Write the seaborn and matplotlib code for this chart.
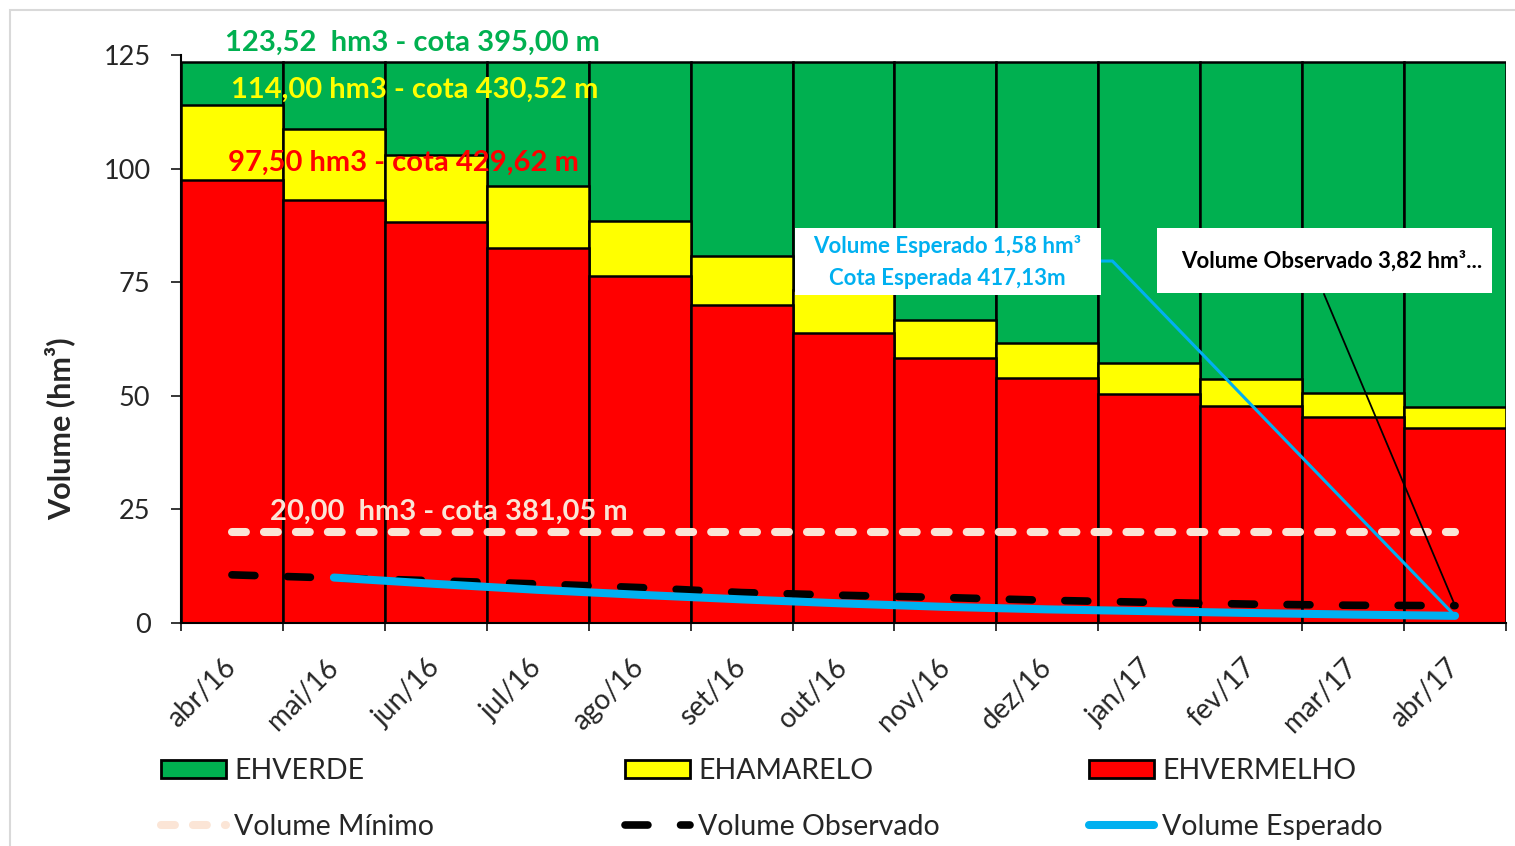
import numpy as np
import pandas as pd
import matplotlib
matplotlib.use('Agg')
import matplotlib.pyplot as plt
from matplotlib.patches import Patch, Rectangle
from matplotlib.lines import Line2D
from matplotlib.ticker import MultipleLocator
import seaborn as sns

# dados
meses = ['abr/16', 'mai/16', 'jun/16', 'jul/16', 'ago/16', 'set/16', 'out/16',
         'nov/16', 'dez/16', 'jan/17', 'fev/17', 'mar/17', 'abr/17']
eh_verde = [123.52] * 13
eh_amarelo = [114.0, 108.7, 103.0, 96.2, 88.5, 80.8, 73.3, 66.7, 61.6, 57.2, 53.7, 50.6, 47.5]
eh_vermelho = [97.5, 93.1, 88.2, 82.5, 76.4, 70.0, 63.8, 58.3, 53.9, 50.4, 47.8, 45.3, 42.9]
vol_minimo = [20.0] * 13
vol_observado = [10.6, 9.9, 9.3, 8.6, 7.8, 6.7, 6.1, 5.6, 5.0, 4.55, 4.15, 3.9, 3.82]
vol_esperado = [np.nan, 10.0, 8.6, 7.3, 6.2, 5.2, 4.3, 3.55, 3.0, 2.6, 2.2, 1.85, 1.58]

VERDE = '#00B050'
AMARELO = '#FFFF00'
VERMELHO = '#FF0000'
AZUL = '#00B0F0'
PESSEGO = '#FBE5D6'

sns.set_style('white')
plt.rcParams['font.family'] = ['Lato', 'DejaVu Sans']
plt.rcParams['lines.scale_dashes'] = False

df = pd.DataFrame({'mes': meses, 'verde': eh_verde, 'amarelo': eh_amarelo,
                   'vermelho': eh_vermelho, 'minimo': vol_minimo,
                   'observado': vol_observado, 'esperado': vol_esperado})
df['pos'] = np.arange(len(df))

W, H = 1515, 846
fig = plt.figure(figsize=(W / 100, H / 100), dpi=100)
ax = fig.add_axes([181 / W, 1 - 623 / H, 1325 / W, 568 / H])

# barras empilhadas (sobrepostas)
for col, cor in [('verde', VERDE), ('amarelo', AMARELO), ('vermelho', VERMELHO)]:
    sns.barplot(data=df, x='mes', y=col, color=cor, saturation=1, width=1.0,
                edgecolor='black', linewidth=1.8, errorbar=None, ax=ax)

# linhas
sns.lineplot(data=df, x='pos', y='minimo', color=PESSEGO, lw=5.8,
             linestyle=(0, (10, 13)), dash_capstyle='round', ax=ax)
sns.lineplot(data=df, x='pos', y='observado', color='black', lw=5.5,
             linestyle=(0, (16.5, 23.5)), dash_capstyle='round', ax=ax)
sns.lineplot(data=df, x='pos', y='esperado', color=AZUL, lw=5.8,
             solid_capstyle='round', solid_joinstyle='round', ax=ax)

ax.set_xlim(-0.5, 12.5)
ax.set_ylim(0, 125)
ax.set_xlabel('')
ax.set_ylabel('')

for s in ['top', 'right']:
    ax.spines[s].set_visible(False)
for s in ['left', 'bottom']:
    ax.spines[s].set_color('black')
    ax.spines[s].set_linewidth(1.5)

ax.set_yticks([0, 25, 50, 75, 100, 125])
ax.yaxis.set_minor_locator(MultipleLocator(5))
ax.tick_params(axis='y', which='major', direction='out', length=7, width=1.3,
               pad=15, labelsize=19.5, left=True)
ax.tick_params(axis='y', which='minor', direction='in', length=4, width=1.2, left=True)

ax.set_xticks(np.arange(-0.5, 13, 1))
ax.set_xticklabels([''] * 14)
ax.set_xticks(np.arange(13), minor=True)
ax.set_xticklabels(meses, minor=True, rotation=45, ha='right', va='center',
                   rotation_mode='anchor', fontsize=20)
ax.tick_params(axis='x', which='major', direction='out', length=6, width=1.3, bottom=True)
ax.tick_params(axis='x', which='minor', length=0, pad=29)

fig.text(60 / W, 1 - 429 / H, 'Volume (hm³)', rotation=90, ha='center', va='center',
         fontsize=22, fontweight='bold')

# textos de referência
ax.text(0.175, 1.022, '123,52  hm3 - cota 395,00 m', transform=ax.transAxes, ha='center',
        va='center', color=VERDE, fontsize=21, fontweight='bold', clip_on=False)
ax.text(0.1766, 0.939, '114,00 hm3 - cota 430,52 m', transform=ax.transAxes, ha='center',
        va='center', color=AMARELO, fontsize=21, fontweight='bold')
ax.text(0.168, 0.810, '97,50 hm3 - cota 429,62 m', transform=ax.transAxes, ha='center',
        va='center', color=VERMELHO, fontsize=21, fontweight='bold')
ax.text(0.2019, 0.196, '20,00  hm3 - cota 381,05 m', transform=ax.transAxes, ha='center',
        va='center', color=PESSEGO, fontsize=21, fontweight='bold')

# caixas de rótulo
ax.add_patch(Rectangle((0.4634, 0.5775), 0.2309, 0.1179, transform=ax.transAxes,
                       fc='white', ec='none', zorder=5))
ax.text(0.5781, 0.6356, 'Volume Esperado 1,58 hm³\nCota Esperada 417,13m',
        transform=ax.transAxes, ha='center', va='center', color=AZUL, fontsize=16,
        fontweight='bold', linespacing=1.6, zorder=6)
ax.annotate('', xy=(12, 1.58), xycoords='data', xytext=(0.6943, 0.6373),
            textcoords='axes fraction', zorder=4,
            arrowprops=dict(arrowstyle='-', color=AZUL, lw=2.2, shrinkA=0, shrinkB=0,
                            connectionstyle='angle,angleA=0,angleB=134,rad=0'))

ax.add_patch(Rectangle((0.7366, 0.5810), 0.2528, 0.1144, transform=ax.transAxes,
                       fc='white', ec='none', zorder=5))
ax.text(0.8687, 0.6373, 'Volume Observado 3,82 hm³...', transform=ax.transAxes,
        ha='center', va='center', color='black', fontsize=16, fontweight='bold', zorder=6)
ax.annotate('', xy=(12, 3.82), xycoords='data', xytext=(0.8626, 0.5793),
            textcoords='axes fraction', zorder=4,
            arrowprops=dict(arrowstyle='-', color='black', lw=1.3, shrinkA=0, shrinkB=0))

# legenda em três colunas
colunas = [
    (161, Patch(facecolor=VERDE, edgecolor='black', linewidth=2), 'EHVERDE',
     Line2D([], [], color=PESSEGO, lw=5.8, linestyle=(0, (10, 13)), dash_capstyle='round'),
     'Volume Mínimo'),
    (625, Patch(facecolor=AMARELO, edgecolor='black', linewidth=2), 'EHAMARELO',
     Line2D([], [], color='black', lw=5.5, linestyle=(0, (16.5, 23.5)), dash_capstyle='round'),
     'Volume Observado'),
    (1089, Patch(facecolor=VERMELHO, edgecolor='black', linewidth=2), 'EHVERMELHO',
     Line2D([], [], color=AZUL, lw=5.8, solid_capstyle='round'), 'Volume Esperado'),
]
for x0, h1, l1, h2, l2 in colunas:
    fig.legend([h1, h2], [l1, l2], loc='center left',
               bbox_to_anchor=(x0 / W, 1 - 799 / H), frameon=False, fontsize=20.5,
               borderpad=0, borderaxespad=0, handlelength=2.3, handleheight=0.58,
               handletextpad=0.28, labelspacing=1.05)

fig.add_artist(Rectangle((10 / W, -0.05), 1.5, 0.05 + 1 - 10 / H, transform=fig.transFigure,
                         fill=False, ec='#D9D9D9', lw=1.5))

fig.savefig('out.png', dpi=100)
